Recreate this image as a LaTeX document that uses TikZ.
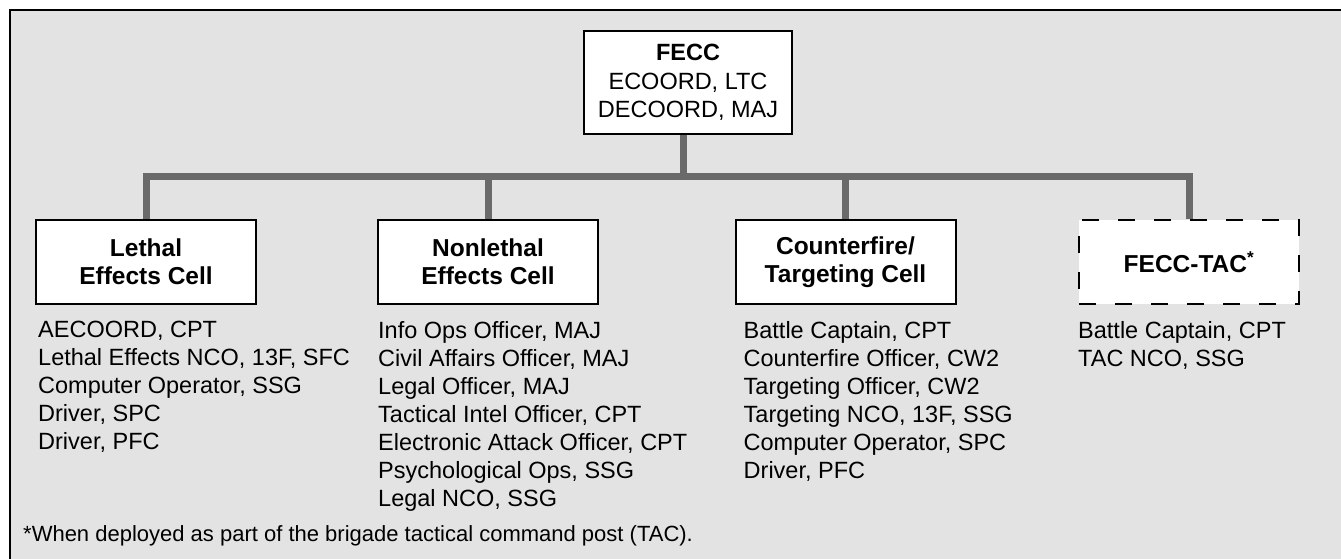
\documentclass[tikz,border=0pt]{standalone}
\usepackage{fontspec}
\setmainfont{Liberation Sans}
\usetikzlibrary{positioning}
\definecolor{panel}{HTML}{E3E3E3}
\definecolor{linkgray}{HTML}{6A6A6A}

\begin{document}
\begin{tikzpicture}[x=1pt,y=-1pt,font=\fontsize{23.5}{28}\selectfont]
\tikzstyle{cell}=[draw=black,line width=2pt,fill=white,minimum width=220pt,minimum height=84pt,align=center,inner sep=0pt,font=\fontsize{24.5}{28.3}\selectfont\bfseries]
\tikzstyle{staff}=[anchor=north west,align=left,inner sep=0pt]
\tikzstyle{link}=[draw=linkgray,line width=7pt]
\useasboundingbox (0,0) rectangle (1341,559);
\fill[panel] (9.5,10.5) rectangle (1341,559);
\draw[line width=2pt] (9.5,559) -- (9.5,10.5) -- (1341,10.5);

% boxes
\node[cell,minimum width=208pt,minimum height=103pt,font=\fontsize{23.5}{28.3}\selectfont] (fecc) at (688,82.5) {\textbf{FECC}\\ECOORD, LTC\\DECOORD, MAJ};
\node[cell] (lethal) at (146,262) {Lethal\\Effects Cell};
\node[cell] (nonlethal) at (488,262) {Nonlethal\\Effects Cell};
\node[cell] (counter) at (845.5,262) {Counterfire/\\Targeting Cell};
\node[cell,dash pattern=on 17pt off 19pt] (tac) at (1189,262) {FECC-TAC\textsuperscript{*}};

% connectors
\coordinate (bar) at (683,176.5);
\draw[link] (lethal.north) |- (bar) -| (tac.north);
\draw[link] ([xshift=-5pt]fecc.south) -- (bar);
\draw[link] (nonlethal.north) -- (nonlethal.north |- bar);
\draw[link] (counter.north) -- (counter.north |- bar);

% staff lists
\node[staff] (lethallist) at ([shift={(3,16)}]lethal.south west) {AECOORD, CPT\\Lethal Effects NCO, 13F, SFC\\Computer Operator, SSG\\Driver, SPC\\Driver, PFC};
\node[staff] (nonlethallist) at ([shift={(1,16)}]nonlethal.south west) {Info Ops Officer, MAJ\\Civil Affairs Officer, MAJ\\Legal Officer, MAJ\\Tactical Intel Officer, CPT\\Electronic Attack Officer, CPT\\Psychological Ops, SSG\\Legal NCO, SSG};
\node[staff] (counterlist) at ([shift={(9,16)}]counter.south west) {Battle Captain, CPT\\Counterfire Officer, CW2\\Targeting Officer, CW2\\Targeting NCO, 13F, SSG\\Computer Operator, SPC\\Driver, PFC};
\node[staff] (taclist) at ([shift={(0,16)}]tac.south west) {Battle Captain, CPT\\TAC NCO, SSG};

\node[anchor=base west,inner sep=0pt,font=\fontsize{22}{26}\selectfont] (note) at (23,541) {*When deployed as part of the brigade tactical command post (TAC).};
\end{tikzpicture}
\end{document}
